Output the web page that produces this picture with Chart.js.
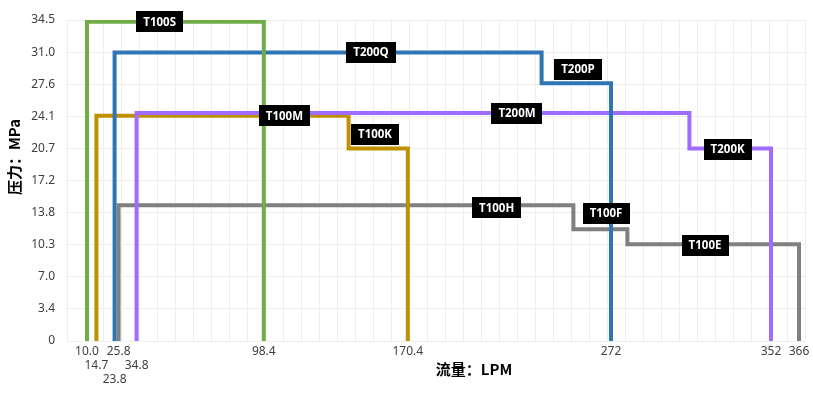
<!DOCTYPE html>
<html lang="zh">
<head>
  <meta charset="UTF-8" />
  <title>流量-压力</title>
  <script src="https://cdn.jsdelivr.net/npm/chart.js"></script>
  <style>
    body {
      margin: 0;
      background: #ffffff;
    }
    #wrap {
      width: 813px;
      height: 398px;
      position: relative;
    }
  </style>
</head>
<body>
  <div id="wrap"><canvas id="pumpChart"></canvas></div>

  <script>
    // flow (LPM) / pressure (MPa) vertices of each step outline
    const t100sFlow = [10.0, 10.0, 98.4, 98.4];
    const t100sPress = [0, 34.3, 34.3, 0];

    const t200qFlow = [23.8, 23.8, 237.3, 237.3, 272, 272];
    const t200qPress = [0, 31.0, 31.0, 27.7, 27.7, 0];

    const t200mFlow = [34.8, 34.8, 311.2, 311.2, 352, 352];
    const t200mPress = [0, 24.5, 24.5, 20.7, 20.7, 0];

    const t100mFlow = [14.7, 14.7, 140.8, 140.8, 170.4, 170.4];
    const t100mPress = [0, 24.2, 24.2, 20.7, 20.7, 0];

    const t100hFlow = [25.8, 25.8, 253.2, 253.2, 280.2, 280.2, 366, 366];
    const t100hPress = [0, 14.6, 14.6, 12.0, 12.0, 10.4, 10.4, 0];

    // axis ticks
    const flowTicks = [10.0, 14.7, 23.8, 25.8, 34.8, 98.4, 170.4, 272, 352, 366];
    const flowTickText = ["10.0", "14.7", "23.8", "25.8", "34.8", "98.4", "170.4", "272", "352", "366"];
    const pressTickText = ["0", "3.4", "7.0", "10.3", "13.8", "17.2", "20.7", "24.1", "27.6", "31.0", "34.5"];
    const pressStep = 3.45;

    // model names and where they sit (flow, pressure)
    const modelNames = ["T100S", "T200Q", "T200P", "T100M", "T100K", "T200M", "T200K", "T100H", "T100F", "T100E"];
    const modelFlow = [46.3, 152, 255.5, 108.7, 154, 225, 330.3, 214.8, 269.5, 319];
    const modelPress = [34.3, 31.0, 29.2, 24.2, 22.2, 24.5, 20.6, 14.3, 13.7, 10.3];

    // which line each flow label sits on below the axis
    const flowTickRow = [0, 1, 2, 0, 1, 0, 0, 0, 0, 0];

    const gridColor = "#eeeeee";
    const tickColor = "#404040";

    function toPoints(xs, ys) {
      return xs.map((x, i) => ({ x: x, y: ys[i] }));
    }

    function stepSet(label, xs, ys, color) {
      return {
        label: label,
        data: toPoints(xs, ys),
        showLine: true,
        borderColor: color,
        backgroundColor: color,
        borderWidth: 4,
        borderJoinStyle: "miter",
        pointRadius: 0,
        pointHoverRadius: 0,
        tension: 0,
        fill: false
      };
    }

    // black name tags + axis titles
    const tagPlugin = {
      id: "tags",
      afterDatasetsDraw(chart) {
        const ctx = chart.ctx;
        const xs = chart.scales.x;
        const ys = chart.scales.y;
        ctx.save();
        ctx.font = "bold 11.5px 'Open Sans'";
        ctx.textAlign = "center";
        ctx.textBaseline = "middle";
        modelNames.forEach((name, i) => {
          const px = xs.getPixelForValue(modelFlow[i]);
          const py = ys.getPixelForValue(modelPress[i]);
          const w = ctx.measureText(name).width + 14;
          const h = 21;
          ctx.fillStyle = "#000000";
          ctx.fillRect(Math.round(px - w / 2), Math.round(py - h / 2), Math.round(w), h);
          ctx.fillStyle = "#ffffff";
          ctx.fillText(name, px, py + 0.5);
        });
        ctx.restore();
      },
      afterDraw(chart) {
        const ctx = chart.ctx;
        const area = chart.chartArea;
        ctx.save();
        ctx.fillStyle = "#000000";
        ctx.font = "bold 15px 'Noto Sans CJK SC'";
        ctx.textAlign = "center";
        ctx.textBaseline = "middle";
        ctx.fillText("流量：LPM", area.left + 407, 369);
        ctx.translate(14, 157);
        ctx.rotate(-Math.PI / 2);
        ctx.fillText("压力：MPa", 0, 0);
        ctx.restore();
      }
    };

    new Chart(document.getElementById("pumpChart"), {
      type: "scatter",
      data: {
        datasets: [
          stepSet("T100S", t100sFlow, t100sPress, "#70AD47"),
          stepSet("T200Q", t200qFlow, t200qPress, "#2E75B6"),
          stepSet("T200M", t200mFlow, t200mPress, "#A06BFF"),
          stepSet("T100M", t100mFlow, t100mPress, "#BF9000"),
          stepSet("T100H", t100hFlow, t100hPress, "#808080")
        ]
      },
      options: {
        responsive: true,
        maintainAspectRatio: false,
        animation: false,
        layout: {
          padding: { top: 20, right: 8, left: 0, bottom: 0 }
        },
        plugins: {
          legend: { display: false },
          tooltip: { enabled: false }
        },
        scales: {
          x: {
            type: "linear",
            position: "bottom",
            min: 0,
            max: 369,
            border: { display: false },
            grid: { color: gridColor, drawTicks: false },
            ticks: { display: false, stepSize: 9 },
            afterFit(s) {
              s.height = 0;
              s.paddingLeft = 0;
              s.paddingRight = 0;
            }
          },
          xl: {
            type: "linear",
            position: "bottom",
            min: 0,
            max: 369,
            border: { display: false },
            grid: { display: false, drawTicks: false },
            afterBuildTicks(s) {
              s.ticks = flowTicks.map(v => ({ value: v }));
            },
            ticks: {
              autoSkip: false,
              maxRotation: 0,
              padding: 4,
              color: tickColor,
              font: { family: "'Noto Sans'", size: 12, lineHeight: 1.15 },
              callback(value, index) {
                const rows = new Array(flowTickRow[index]).fill("");
                return rows.concat(flowTickText[index]);
              }
            },
            afterFit(s) {
              s.height = 57;
              s.paddingLeft = 0;
              s.paddingRight = 0;
            }
          },
          y: {
            type: "linear",
            min: 0,
            max: 34.5,
            border: { display: false },
            grid: { color: gridColor, drawTicks: false },
            afterBuildTicks(s) {
              s.ticks = pressTickText.map((t, i) => ({ value: i * pressStep }));
            },
            ticks: {
              padding: 12,
              color: tickColor,
              font: { family: "'Noto Sans'", size: 12 },
              callback(value, index) {
                return pressTickText[index];
              }
            },
            afterFit(s) {
              s.width = 67;
            }
          }
        }
      },
      plugins: [tagPlugin]
    });
  </script>
</body>
</html>
